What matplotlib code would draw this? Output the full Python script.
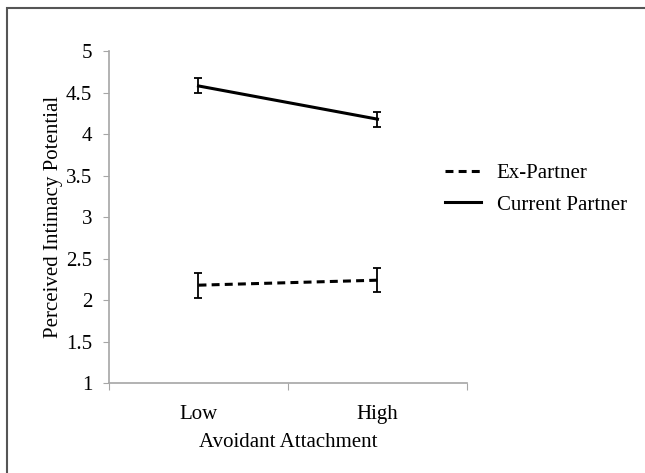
import matplotlib.pyplot as plt
from matplotlib.patches import Rectangle

plt.rcParams['font.family'] = ['Liberation Serif', 'DejaVu Serif']

categories = ['Low', 'High']
ex_partner = [2.18, 2.24]
ex_partner_err = [0.15, 0.145]
current_partner = [4.58, 4.18]
current_partner_err = [0.09, 0.09]
y_ticks = [1, 1.5, 2, 2.5, 3, 3.5, 4, 4.5, 5]

fig = plt.figure(figsize=(6.45, 4.73), dpi=100)
ax = fig.add_axes([0.169, 0.190, 0.555, 0.702])

x = [0.5, 1.5]
ax.errorbar(x, ex_partner, yerr=ex_partner_err, color='black', linestyle=(0, (2.6, 1.7)),
            linewidth=2.2, capsize=3, elinewidth=1.3, capthick=1.3, label='Ex-Partner')
ax.errorbar(x, current_partner, yerr=current_partner_err, color='black', linestyle='-',
            linewidth=2.2, capsize=3, elinewidth=1.3, capthick=1.3, label='Current Partner')

ax.set_xlim(0, 2)
ax.set_ylim(1, 5)
ax.set_yticks(y_ticks)
ax.set_yticklabels(['1', '1.5', '2', '2.5', '3', '3.5', '4', '4.5', '5'])
ax.set_xticks([0, 1, 2])
ax.set_xticklabels([])
ax.set_xticks(x, minor=True)
ax.set_xticklabels(categories, minor=True)
ax.tick_params(axis='x', which='minor', length=0, pad=16, labelsize=15)
ax.tick_params(axis='x', which='major', length=5, color='#a6a6a6', direction='out')
ax.tick_params(axis='y', length=4, color='#a6a6a6', labelsize=15, pad=8)
for s in ['top', 'right']:
    ax.spines[s].set_visible(False)
for s in ['left', 'bottom']:
    ax.spines[s].set_color('#a6a6a6')
    ax.spines[s].set_linewidth(1.2)

ax.set_xlabel('Avoidant Attachment', fontsize=15, labelpad=6)
ax.set_ylabel('Perceived Intimacy Potential', fontsize=15, labelpad=2)

handles, labels = ax.get_legend_handles_labels()
handles = [h[0] for h in handles]
fig.legend(handles, labels, loc='center left', bbox_to_anchor=(0.661, 0.600),
           frameon=False, fontsize=15, handlelength=1.7, handletextpad=0.77, labelspacing=0.55)

fig.patches.append(Rectangle((7 / 645, -0.1), 1.2, 1 - 8 / 473 + 0.1, transform=fig.transFigure,
                             fill=False, edgecolor='#555555', linewidth=1.5))

fig.savefig('out.png', dpi=100)
